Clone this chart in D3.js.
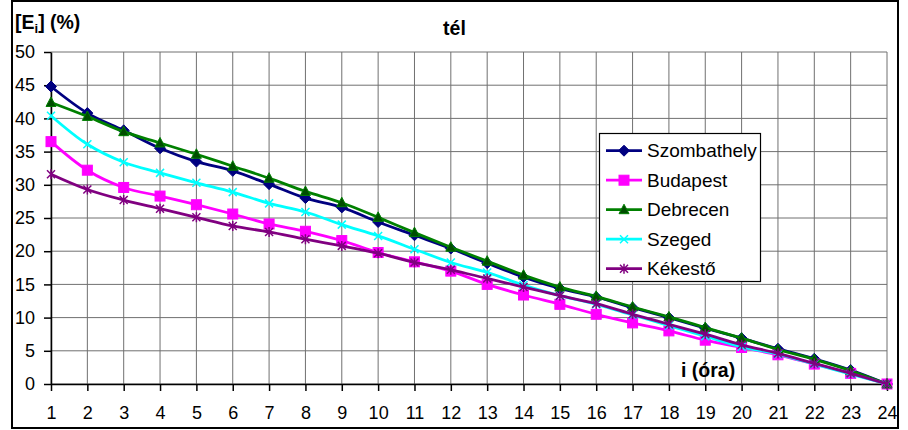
<!DOCTYPE html>
<html>
<head>
<meta charset="utf-8">
<script src="https://cdn.jsdelivr.net/npm/d3@7"></script>
<style>
  body { margin: 0; background: #fff; }
  text { font-family: "Liberation Sans", Arial, sans-serif; }
</style>
</head>
<body>
<div id="chart"></div>
<script>
// Chart data: hours and the share [Ei] (%) for each station, winter ("tél")
const HOURS = d3.range(1, 25);
const Y_TICKS = [0, 5, 10, 15, 20, 25, 30, 35, 40, 45, 50];

const SZOMBATHELY = [44.8, 40.8, 38.2, 35.5, 33.5, 32.1, 30.1, 28.0, 26.6, 24.4, 22.4, 20.4,
                     18.2, 16.1, 14.4, 13.1, 11.5, 10.0, 8.4, 6.9, 5.3, 3.8, 2.1, 0];
const BUDAPEST = [36.5, 32.2, 29.6, 28.3, 27.0, 25.6, 24.1, 23.0, 21.6, 19.8, 18.4, 17.0,
                  15.0, 13.4, 12.0, 10.5, 9.2, 8.0, 6.6, 5.5, 4.4, 3.0, 1.6, 0];
const DEBRECEN = [42.4, 40.3, 38.0, 36.3, 34.6, 32.8, 31.0, 29.0, 27.3, 25.1, 22.8, 20.6,
                  18.5, 16.4, 14.6, 13.2, 11.6, 10.1, 8.5, 6.9, 5.2, 3.7, 2.0, 0];
const SZEGED = [40.4, 36.1, 33.4, 31.8, 30.3, 28.9, 27.2, 25.9, 24.0, 22.3, 20.3, 18.3,
                16.8, 14.9, 13.3, 12.0, 10.4, 8.8, 7.2, 5.6, 4.5, 3.0, 1.5, 0];
const KEKESTO = [31.6, 29.3, 27.7, 26.4, 25.1, 23.8, 22.9, 21.8, 20.8, 19.7, 18.3, 17.2,
                 15.9, 14.6, 13.3, 12.1, 10.5, 9.0, 7.5, 5.9, 4.6, 3.1, 1.6, 0];

const SERIES_NAMES = ["Szombathely", "Budapest", "Debrecen", "Szeged", "Kékestő"];
const SERIES_VALUES = [SZOMBATHELY, BUDAPEST, DEBRECEN, SZEGED, KEKESTO];

// Styles per series (line colour, marker symbol, marker fill)
const STYLES = [
  {color: "#000080", fill: "#000080", symbol: "diamond"},
  {color: "#ff00ff", fill: "#ff00ff", symbol: "square"},
  {color: "#008000", fill: "#004d00", symbol: "triangle"},
  {color: "#00ffff", fill: "none", symbol: "x"},
  {color: "#800080", fill: "none", symbol: "star"}
];

// Frame and plot area
const FRAME_WIDTH = 908;
const FRAME_HEIGHT = 430;
const PLOT = {left: 51, right: 887, top: 52, bottom: 384};

const FRAME = d3.select("#chart")
                .append("svg")
                  .attr("width", FRAME_WIDTH)
                  .attr("height", FRAME_HEIGHT);

// Outer chart border
FRAME.append("rect")
     .attr("x", 12)
     .attr("y", 1)
     .attr("width", 886)
     .attr("height", 427)
     .attr("fill", "#fff")
     .attr("stroke", "#000")
     .attr("stroke-width", 2);

// Scales
const X_SCALE = d3.scalePoint()
                  .domain(HOURS)
                  .range([PLOT.left, PLOT.right]);

const Y_SCALE = d3.scaleLinear()
                  .domain([0, 50])
                  .range([PLOT.bottom, PLOT.top]);

// Grid lines
FRAME.append("g")
     .selectAll("line")
     .data(Y_TICKS)
     .enter()
     .append("line")
       .attr("x1", PLOT.left)
       .attr("x2", PLOT.right)
       .attr("y1", (d) => Y_SCALE(d))
       .attr("y2", (d) => Y_SCALE(d))
       .attr("stroke", "#707070")
       .attr("stroke-width", 1);

FRAME.append("g")
     .selectAll("line")
     .data(HOURS)
     .enter()
     .append("line")
       .attr("x1", (d) => X_SCALE(d))
       .attr("x2", (d) => X_SCALE(d))
       .attr("y1", PLOT.top)
       .attr("y2", PLOT.bottom)
       .attr("stroke", "#707070")
       .attr("stroke-width", 1);

// Axes
const xAxis = FRAME.append("g")
     .attr("transform", "translate(0," + PLOT.bottom + ")")
     .call(d3.axisBottom(X_SCALE).tickSize(7).tickPadding(15).tickSizeOuter(0));

const yAxis = FRAME.append("g")
     .attr("transform", "translate(" + PLOT.left + ",0)")
     .call(d3.axisLeft(Y_SCALE).tickValues(Y_TICKS).tickSize(7).tickPadding(9).tickSizeOuter(0));

[xAxis, yAxis].forEach((ax) => {
  ax.selectAll("text")
    .attr("font-size", "18px")
    .attr("fill", "#000")
    .style("font-family", "'Liberation Sans', Arial, sans-serif");
  ax.selectAll("line").attr("stroke", "#000").attr("stroke-width", 1.5);
  ax.select(".domain").attr("stroke", "#000").attr("stroke-width", 1.5);
});

// Marker drawing helper
function marker(sel, style) {
  if (style.symbol === "diamond") {
    sel.append("path")
       .attr("d", "M0,-5.5L5.5,0L0,5.5L-5.5,0Z")
       .attr("fill", style.fill).attr("stroke", style.color);
  } else if (style.symbol === "square") {
    sel.append("rect")
       .attr("x", -5).attr("y", -5).attr("width", 10).attr("height", 10)
       .attr("fill", style.fill).attr("stroke", style.color);
  } else if (style.symbol === "triangle") {
    sel.append("path")
       .attr("d", "M0,-5.5L5,4L-5,4Z")
       .attr("fill", style.fill).attr("stroke", style.color).attr("stroke-width", 1);
  } else if (style.symbol === "x") {
    sel.append("path")
       .attr("d", "M-4,-4L4,4M-4,4L4,-4")
       .attr("stroke", style.color).attr("stroke-width", 1.5);
  } else {
    sel.append("path")
       .attr("d", "M-4,-4L4,4M-4,4L4,-4M0,-5L0,5")
       .attr("stroke", style.color).attr("stroke-width", 1.5);
  }
}

// Lines and markers
const LINE = d3.line()
               .x((d, i) => X_SCALE(HOURS[i]))
               .y((d) => Y_SCALE(d))
               .curve(d3.curveCatmullRom.alpha(0.5));

SERIES_VALUES.forEach((values, s) => {
  const style = STYLES[s];
  FRAME.append("path")
       .datum(values)
       .attr("d", LINE)
       .attr("fill", "none")
       .attr("stroke", style.color)
       .attr("stroke-width", 2.8);

  FRAME.append("g")
       .selectAll("g")
       .data(values)
       .enter()
       .append("g")
         .attr("transform", (d, i) => "translate(" + X_SCALE(HOURS[i]) + "," + Y_SCALE(d) + ")")
         .each(function() { marker(d3.select(this), style); });
});

// Titles
FRAME.append("text")
     .attr("x", 454.5)
     .attr("y", 35)
     .attr("text-anchor", "middle")
     .attr("font-size", "19.5px")
     .attr("font-weight", "bold")
     .text("tél");

const yTitle = FRAME.append("text")
     .attr("x", 15)
     .attr("y", 29)
     .attr("font-size", "19.5px")
     .attr("font-weight", "bold");
yTitle.append("tspan").text("[E");
yTitle.append("tspan").attr("font-size", "13px").attr("dy", 4).text("i");
yTitle.append("tspan").attr("dy", -4).text("] (%)");

FRAME.append("text")
     .attr("x", 681)
     .attr("y", 377)
     .attr("font-size", "19.5px")
     .attr("font-weight", "bold")
     .text("i (óra)");

// Legend
const LEGEND = FRAME.append("g");
LEGEND.append("rect")
      .attr("x", 599.5)
      .attr("y", 133.5)
      .attr("width", 161)
      .attr("height", 148)
      .attr("fill", "#fff")
      .attr("stroke", "#000")
      .attr("stroke-width", 1.2);

SERIES_NAMES.forEach((name, s) => {
  const style = STYLES[s];
  const yy = 150.7 + s * 29.5;
  LEGEND.append("line")
        .attr("x1", 606).attr("x2", 642)
        .attr("y1", yy).attr("y2", yy)
        .attr("stroke", style.color)
        .attr("stroke-width", 2.8);
  const g = LEGEND.append("g").attr("transform", "translate(624," + yy + ")");
  marker(g, style);
  LEGEND.append("text")
        .attr("x", 647)
        .attr("y", yy + 6.5)
        .attr("font-size", "19px")
        .text(name);
});
</script>
</body>
</html>
